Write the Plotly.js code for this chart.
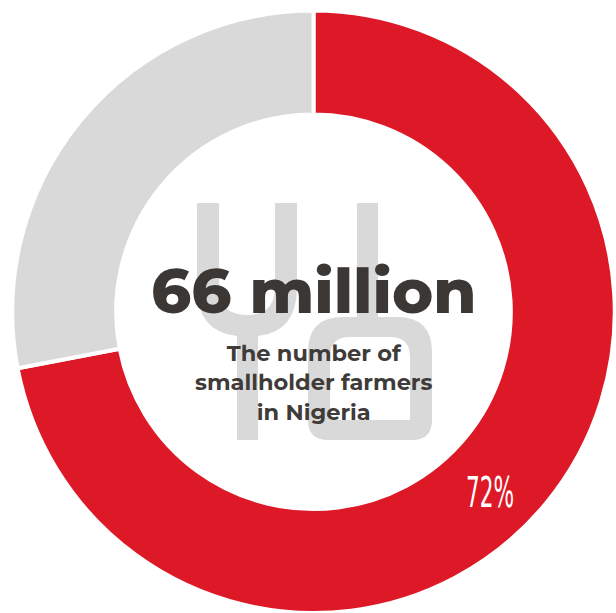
<!DOCTYPE html>
<html>
<head>
<meta charset="utf-8">
<script src="https://cdn.plot.ly/plotly-3.0.1.min.js"></script>
<style>html,body{margin:0;padding:0;background:#fff;}#chart{width:616px;height:613px;}</style>
</head>
<body>
<div id="chart"></div>
<script>
// Data
const labels = ["Smallholder share", "Other"];
const values = [72, 28];
const colors = ["#DD1927", "#D9D9D9"];
const headline = "66 million";
const subtitle = ["The number of", "smallholder farmers", "in Nigeria"];

const W = 616, H = 613;
function P(x, y) { return (x / W).toFixed(5) + "," + (1 - y / H).toFixed(5); }

// watermark logo (decorative) built from pixel outlines
function uPath() {
  return "M" + P(197,203) + " L" + P(219,203) + " L" + P(219,287) +
    " Q" + P(219,315) + " " + P(247,315) + " Q" + P(275,315) + " " + P(275,287) +
    " L" + P(275,203) + " L" + P(297,203) + " L" + P(297,287) +
    " Q" + P(297,332) + " " + P(258,336) + " L" + P(258,440) + " L" + P(237,440) +
    " L" + P(237,336) + " Q" + P(197,332) + " " + P(197,287) + " Z";
}
function dOuter() {
  return "M" + P(357,203) + " L" + P(378,203) + " L" + P(378,317) + " L" + P(397,317) +
    " Q" + P(432,317) + " " + P(432,352) + " L" + P(432,420) + " Q" + P(432,440) + " " + P(412,440) +
    " L" + P(328,440) + " Q" + P(308,440) + " " + P(308,420) + " L" + P(308,352) +
    " Q" + P(308,317) + " " + P(343,317) + " L" + P(357,317) + " Z";
}
function dInner() {
  return "M" + P(350,337) + " L" + P(390,337) + " Q" + P(410,337) + " " + P(410,357) +
    " L" + P(410,420) + " L" + P(330,420) + " L" + P(330,357) + " Q" + P(330,337) + " " + P(350,337) + " Z";
}

const total = values.reduce((a, b) => a + b, 0);
const pctText = Math.round(values[0] / total * 100) + "%";

const trace = {
  type: "pie",
  labels: labels,
  values: values,
  hole: 0.655,
  sort: false,
  direction: "clockwise",
  rotation: 0,
  marker: { colors: colors, line: { color: "#ffffff", width: 4 } },
  textinfo: "none",
  hoverinfo: "none",
  showlegend: false,
  domain: { x: [11.5 / W, 615.5 / W], y: [0, 602.5 / H] }
};

const layout = {
  width: W, height: H,
  margin: { l: 0, r: 0, t: 0, b: 0 },
  paper_bgcolor: "#ffffff",
  showlegend: false,
  shapes: [
    { type: "path", xref: "paper", yref: "paper", layer: "below", path: uPath(), fillcolor: "#D9D9D9", line: { width: 0 } },
    { type: "path", xref: "paper", yref: "paper", layer: "below", path: dOuter(), fillcolor: "#D9D9D9", line: { width: 0 } },
    { type: "path", xref: "paper", yref: "paper", layer: "below", path: dInner(), fillcolor: "#ffffff", line: { width: 0 } }
  ],
  annotations: [
    { xref: "paper", yref: "paper", x: 313.5 / W, y: 1 - 291 / H, xanchor: "center", yanchor: "middle",
      text: headline, showarrow: false,
      font: { family: "Montserrat, Inter, 'Open Sans', sans-serif", size: 62, weight: 800, color: "#3B3735" } },
    { xref: "paper", yref: "paper", x: 313.5 / W, y: 1 - 382 / H, xanchor: "center", yanchor: "middle",
      text: subtitle.join("<br>"), showarrow: false,
      font: { family: "Montserrat, Inter, 'Open Sans', sans-serif", size: 22.5, weight: 700, color: "#3F3B39" } },
    { xref: "paper", yref: "paper", x: 490 / W, y: 1 - 492 / H, xanchor: "center", yanchor: "middle",
      text: pctText, showarrow: false,
      font: { family: "'Liberation Sans Narrow', 'DejaVu Sans Condensed', 'DejaVu Sans', sans-serif", size: 43, weight: 300, color: "#ffffff" } }
  ]
};

Plotly.newPlot("chart", [trace], layout, { displayModeBar: false, staticPlot: true }).then(function (gd) {
  // condense the percentage label horizontally
  const texts = gd.querySelectorAll(".annotation-text");
  texts.forEach(function (t) {
    if (t.textContent === pctText) {
      t.style.transformBox = "fill-box";
      t.style.transformOrigin = "center";
      t.style.transform = "scaleX(0.56)";
    }
  });
});
</script>
</body>
</html>
